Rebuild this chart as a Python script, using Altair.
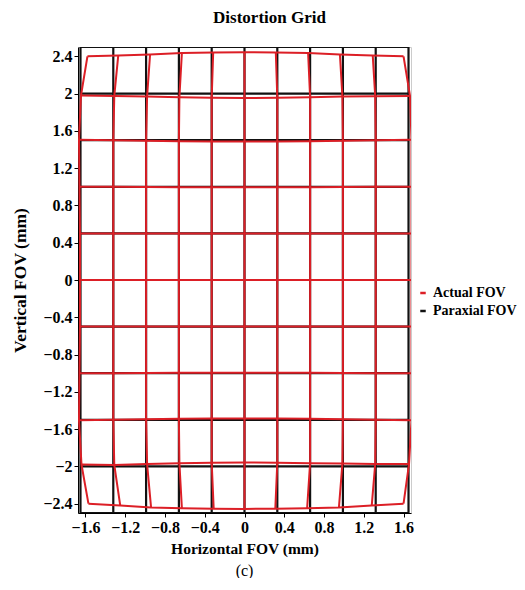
import altair as alt
import pandas as pd

# Paraxial (ideal) grid positions, mm
para_x = [-1.65, -1.32, -0.99, -0.66, -0.33, 0.0, 0.33, 0.66, 0.99, 1.32, 1.65]
para_y = [2.5, 2.0, 1.5, 1.0, 0.5, 0.0, -0.5, -1.0, -1.5, -2.0, -2.5]

# Actual (distorted) grid positions, one list per paraxial row (top to bottom)
act_x = [
    [-1.58, -1.27, -0.95, -0.63, -0.315, 0.0, 0.315, 0.64, 0.96, 1.29, 1.60],
    [-1.645, -1.31, -0.98, -0.655, -0.33, 0.0, 0.33, 0.66, 0.985, 1.315, 1.665],
    [-1.665, -1.32, -0.99, -0.66, -0.33, 0.0, 0.33, 0.66, 0.99, 1.32, 1.68],
    [-1.66, -1.32, -0.99, -0.66, -0.33, 0.0, 0.33, 0.66, 0.99, 1.32, 1.68],
    [-1.655, -1.32, -0.99, -0.66, -0.33, 0.0, 0.33, 0.66, 0.99, 1.32, 1.68],
    [-1.655, -1.32, -0.99, -0.66, -0.33, 0.0, 0.33, 0.66, 0.99, 1.32, 1.68],
    [-1.655, -1.32, -0.99, -0.66, -0.33, 0.0, 0.33, 0.66, 0.99, 1.32, 1.68],
    [-1.66, -1.32, -0.99, -0.66, -0.33, 0.0, 0.33, 0.66, 0.99, 1.32, 1.68],
    [-1.665, -1.32, -0.99, -0.66, -0.33, 0.0, 0.33, 0.66, 0.99, 1.32, 1.68],
    [-1.64, -1.31, -0.98, -0.655, -0.33, 0.0, 0.33, 0.66, 0.985, 1.315, 1.655],
    [-1.57, -1.25, -0.94, -0.63, -0.31, 0.0, 0.31, 0.63, 0.95, 1.28, 1.60],
]
act_y = [
    [2.40, 2.41, 2.42, 2.435, 2.44, 2.445, 2.44, 2.435, 2.42, 2.41, 2.40],
    [1.98, 1.975, 1.97, 1.962, 1.955, 1.953, 1.955, 1.962, 1.968, 1.972, 1.975],
    [1.505, 1.50, 1.495, 1.49, 1.487, 1.485, 1.487, 1.49, 1.495, 1.50, 1.505],
    [1.0, 1.0, 0.998, 0.996, 0.995, 0.995, 0.995, 0.996, 0.998, 1.0, 1.0],
    [0.5, 0.5, 0.5, 0.499, 0.498, 0.498, 0.498, 0.499, 0.5, 0.5, 0.5],
    [0.0, 0.0, 0.0, 0.0, 0.0, 0.0, 0.0, 0.0, 0.0, 0.0, 0.0],
    [-0.5, -0.5, -0.5, -0.499, -0.498, -0.498, -0.498, -0.499, -0.5, -0.5, -0.5],
    [-1.0, -1.0, -0.998, -0.996, -0.995, -0.995, -0.995, -0.996, -0.998, -1.0, -1.0],
    [-1.505, -1.50, -1.495, -1.49, -1.487, -1.485, -1.487, -1.49, -1.495, -1.50, -1.505],
    [-1.98, -1.985, -1.975, -1.965, -1.96, -1.957, -1.96, -1.965, -1.97, -1.975, -1.975],
    [-2.40, -2.42, -2.44, -2.45, -2.455, -2.456, -2.455, -2.45, -2.44, -2.42, -2.40],
]

series_names = ["Actual FOV", "Paraxial FOV"]
series_colors = ["#dc1f26", "#111111"]
x_ticks = [-1.6, -1.2, -0.8, -0.4, 0, 0.4, 0.8, 1.2, 1.6]
y_ticks = [-2.4, -2.0, -1.6, -1.2, -0.8, -0.4, 0, 0.4, 0.8, 1.2, 1.6, 2.0, 2.4]
caption = ["(c)"]


def grid_records(X, Y, name):
    rows = []
    n_r, n_c = len(X), len(X[0])
    for i in range(n_r):
        for j in range(n_c):
            rows.append({"x": X[i][j], "y": Y[i][j], "line": f"{name}-h{i}", "k": j, "series": name})
    for j in range(n_c):
        for i in range(n_r):
            rows.append({"x": X[i][j], "y": Y[i][j], "line": f"{name}-v{j}", "k": i, "series": name})
    return rows


para_X = [[px for px in para_x] for _ in para_y]
para_Y = [[py for _ in para_x] for py in para_y]
para_df = pd.DataFrame(grid_records(para_X, para_Y, "Paraxial FOV"))
act_df = pd.DataFrame(grid_records(act_x, act_y, "Actual FOV"))
cap_df = pd.DataFrame({"t": caption})

FONT = "Liberation Serif"
W, H = 333, 466
PAD_L, PAD_T = 70, 39
PAD_R = 509 - PAD_L - W
PAD_B = 570 - PAD_T - H

x_enc = alt.X(
    "x:Q",
    scale=alt.Scale(domain=[-1.675, 1.675], nice=False, zero=False),
    axis=alt.Axis(values=x_ticks, format="~g", title="Horizontal FOV (mm)", grid=False,
                  labelFont=FONT, labelFontSize=16, labelFontWeight="bold", labelColor="black",
                  titleFont=FONT, titleFontSize=15.5, titleFontWeight="bold", titleColor="black",
                  titlePadding=6, labelPadding=2, tickSize=4, tickColor="black",
                  domainColor="black", labelFlush=False),
)
y_enc = alt.Y(
    "y:Q",
    scale=alt.Scale(domain=[-2.5, 2.5], nice=False, zero=False),
    axis=alt.Axis(values=y_ticks, format="~g", title="Vertical FOV (mm)", grid=False,
                  labelFont=FONT, labelFontSize=16, labelFontWeight="bold", labelColor="black",
                  titleFont=FONT, titleFontSize=17.5, titleFontWeight="bold", titleColor="black",
                  titlePadding=13, labelPadding=2, tickSize=4, tickColor="black",
                  domainColor="black", labelFlush=False),
)
color_enc = alt.Color(
    "series:N",
    scale=alt.Scale(domain=series_names, range=series_colors),
    legend=alt.Legend(title=None, orient="none", legendX=338, legendY=239,
                      symbolType="stroke", symbolSize=30, symbolStrokeWidth=2.5,
                      labelFont=FONT, labelFontSize=14, labelFontWeight="bold", labelColor="black",
                      labelOffset=3, rowPadding=4, padding=0),
)

para_layer = alt.Chart(para_df).mark_line(strokeWidth=2.2, clip=True).encode(
    x=x_enc, y=y_enc, color=color_enc, detail="line:N", order="k:Q"
)
act_layer = alt.Chart(act_df).mark_line(strokeWidth=2, clip=True).encode(
    x=x_enc, y=y_enc, color=color_enc, detail="line:N", order="k:Q"
)
cap_layer = alt.Chart(cap_df).mark_text(font=FONT, fontSize=16, color="black", baseline="middle").encode(
    x=alt.value(W / 2), y=alt.value(524), text="t:N"
)

chart = alt.layer(para_layer, act_layer, cap_layer).properties(
    width=W, height=H,
    title=alt.TitleParams("Distortion Grid", font=FONT, fontSize=17, fontWeight="bold",
                          color="black", anchor="middle", dx=25, offset=20),
    autosize=alt.AutoSizeParams(type="none"),
    padding={"top": PAD_T, "left": PAD_L, "right": PAD_R, "bottom": PAD_B},
).configure_view(stroke="#cccccc", strokeWidth=1)

chart.save("out.html", embed_options={"renderer": "svg", "actions": False})
